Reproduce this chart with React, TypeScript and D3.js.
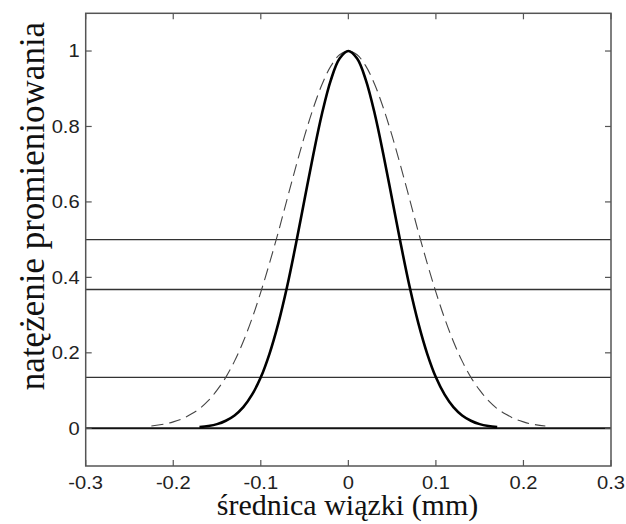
import React from "react";
import * as d3 from "d3";

// Data
const xTicks = [-0.3, -0.2, -0.1, 0, 0.1, 0.2, 0.3];
const yTicks = [0, 0.2, 0.4, 0.6, 0.8, 1];
const refLevels = [0.5, 0.368, 0.135];

// measured beam profile (solid, thick)
const solidX = [-0.17, -0.16, -0.15, -0.14, -0.13, -0.12, -0.11, -0.1, -0.09, -0.08, -0.07, -0.06, -0.05, -0.04, -0.03, -0.02, -0.01, 0, 0.01, 0.02, 0.03, 0.04, 0.05, 0.06, 0.07, 0.08, 0.09, 0.1, 0.11, 0.12, 0.13, 0.14, 0.15, 0.16, 0.17];
const solidY = [0.003, 0.006, 0.011, 0.02, 0.034, 0.056, 0.089, 0.135, 0.198, 0.278, 0.375, 0.487, 0.607, 0.726, 0.835, 0.923, 0.98, 1, 0.98, 0.923, 0.835, 0.726, 0.607, 0.487, 0.375, 0.278, 0.198, 0.135, 0.089, 0.056, 0.034, 0.02, 0.011, 0.006, 0.003];

// wider profile (dashed)
const dashX = [-0.225, -0.21, -0.2, -0.19, -0.18, -0.17, -0.16, -0.15, -0.14, -0.13, -0.12, -0.11, -0.1, -0.09, -0.08, -0.07, -0.06, -0.05, -0.04, -0.03, -0.02, -0.01, 0, 0.01, 0.02, 0.03, 0.04, 0.05, 0.06, 0.07, 0.08, 0.09, 0.1, 0.11, 0.12, 0.13, 0.14, 0.15, 0.16, 0.17, 0.18, 0.19, 0.2, 0.21, 0.225];
const dashY = [0.006, 0.011, 0.017, 0.025, 0.037, 0.052, 0.073, 0.101, 0.135, 0.178, 0.23, 0.291, 0.361, 0.438, 0.52, 0.607, 0.693, 0.775, 0.849, 0.912, 0.96, 0.99, 1, 0.99, 0.96, 0.912, 0.849, 0.775, 0.693, 0.607, 0.52, 0.438, 0.361, 0.291, 0.23, 0.178, 0.135, 0.101, 0.073, 0.052, 0.037, 0.025, 0.017, 0.011, 0.006];

const xLabel = "średnica wiązki (mm)";
const yLabel = "natężenie promieniowania";

const W = 626;
const H = 524;
const L = 85.7, R = 611, T = 13.3, B = 466;

export default function App() {
  const x = d3.scaleLinear().domain([-0.3, 0.3]).range([L, R]);
  const y = d3.scaleLinear().domain([-0.1, 1.1]).range([B, T]);
  const line = d3
    .line<[number, number]>()
    .x((d) => x(d[0]))
    .y((d) => y(d[1]))
    .curve(d3.curveCatmullRom);
  const solid = solidX.map((v, i) => [v, solidY[i]] as [number, number]);
  const dashed = dashX.map((v, i) => [v, dashY[i]] as [number, number]);
  const tickFont = "'Liberation Sans', Arial, sans-serif";
  const serif = "'Liberation Serif', 'Times New Roman', serif";
  const axisColor = "#555";
  const tl = 6;
  return (
    <svg
      width={W}
      height={H}
      style={{ position: "absolute", left: 0, top: 0, background: "#fff" }}
    >
      <rect x={0} y={0} width={W} height={H} fill="#fff" />
      {/* reference levels */}
      {refLevels.map((v) => (
        <line key={v} x1={L} x2={R} y1={y(v)} y2={y(v)} stroke="#333" strokeWidth={1.4} />
      ))}
      <line x1={L} x2={R} y1={y(0)} y2={y(0)} stroke="#111" strokeWidth={2} />
      {/* curves */}
      <path d={line(dashed) || ""} fill="none" stroke="#444" strokeWidth={1.1} strokeDasharray="12,6" />
      <path d={line(solid) || ""} fill="none" stroke="#000" strokeWidth={2.6} strokeLinejoin="round" />
      {/* box */}
      <rect x={L} y={T} width={R - L} height={B - T} fill="none" stroke={axisColor} strokeWidth={1.5} />
      {/* ticks */}
      {xTicks.map((t) => (
        <g key={"x" + t}>
          <line x1={x(t)} x2={x(t)} y1={B} y2={B - tl} stroke={axisColor} strokeWidth={1.2} />
          <line x1={x(t)} x2={x(t)} y1={T} y2={T + tl} stroke={axisColor} strokeWidth={1.2} />
          <text
            transform={`translate(${x(t)},${B + 22.5}) scale(1.12,1)`}
            textAnchor="middle"
            fontFamily={tickFont}
            fontSize={18}
            fill="#222"
          >
            {String(t)}
          </text>
        </g>
      ))}
      {yTicks.map((t) => (
        <g key={"y" + t}>
          <line x1={L} x2={L + tl} y1={y(t)} y2={y(t)} stroke={axisColor} strokeWidth={1.2} />
          <line x1={R} x2={R - tl} y1={y(t)} y2={y(t)} stroke={axisColor} strokeWidth={1.2} />
          <text
            transform={`translate(${L - 6},${y(t)}) scale(1.12,1)`}
            dy="0.35em"
            textAnchor="end"
            fontFamily={tickFont}
            fontSize={18}
            fill="#222"
          >
            {String(t)}
          </text>
        </g>
      ))}
      {/* axis labels */}
      <text x={347.5} y={515} textAnchor="middle" fontFamily={serif} fontSize={30} fill="#111">
        {xLabel}
      </text>
      <text
        transform="translate(44,206) rotate(-90)"
        textAnchor="middle"
        fontFamily={serif}
        fontSize={35}
        fill="#111"
      >
        {yLabel}
      </text>
    </svg>
  );
}
